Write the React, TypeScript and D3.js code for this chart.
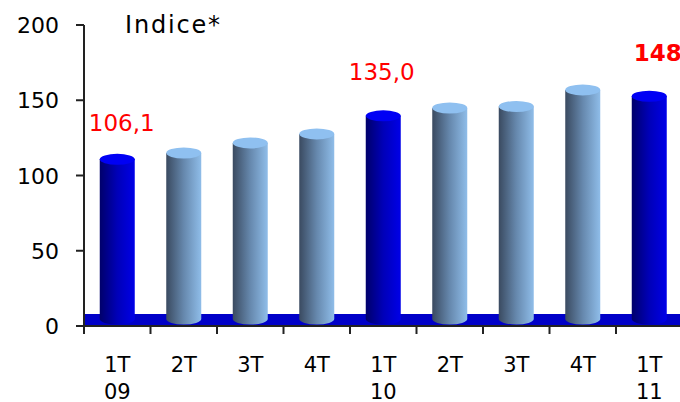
import React from "react";
import * as d3 from "d3";

const quarters = ["1T", "2T", "3T", "4T", "1T", "2T", "3T", "4T", "1T"];
const years = ["09", "", "", "", "10", "", "", "", "11"];
const values = [106.1, 110.3, 117.0, 123.0, 135.0, 140.2, 141.2, 152.2, 148.0];
const highlighted = [true, false, false, false, true, false, false, false, true];
const valueLabels = ["106,1", "", "", "", "135,0", "", "", "", "148,0"];
const labelBold = [false, false, false, false, false, false, false, false, true];
const yTicks = [0, 50, 100, 150, 200];
const title = "Indice*";

const W = 680;
const H = 402;
const left = 84;
const bandW = 66.5;
const x = d3
  .scaleBand<number>()
  .domain(d3.range(quarters.length))
  .range([left, left + bandW * quarters.length])
  .padding(0);
const y = d3.scaleLinear().domain([0, 200]).range([326, 25]);

const depth = 7; // 3D depth shift of bars
const barW = 35;
const ry = 5.5;
const FONT = "Verdana, 'DejaVu Sans', sans-serif";

// label offsets (dx relative to bar center, dy relative to bar top)
const labelDx = [4.5, 0, 0, 0, -1.5, 0, 0, 0, 21];
const labelDy = [-28, 0, 0, 0, -36, 0, 0, 0, -35];

export default function App() {
  const base = y(0) - depth;
  return (
    <svg
      width={W}
      height={H}
      style={{ position: "absolute", left: 0, top: 0, display: "block" }}
      fontFamily={FONT}
    >
      <defs>
        <linearGradient id="gBlue" x1="0" x2="1" y1="0" y2="0">
          <stop offset="0" stopColor="#00006a" />
          <stop offset="0.5" stopColor="#0000b8" />
          <stop offset="1" stopColor="#0000e8" />
        </linearGradient>
        <linearGradient id="gGray" x1="0" x2="1" y1="0" y2="0">
          <stop offset="0" stopColor="#3a4a60" />
          <stop offset="0.5" stopColor="#6688ad" />
          <stop offset="1" stopColor="#8fbde9" />
        </linearGradient>
      </defs>
      <rect width={W} height={H} fill="#fff" />

      {/* floor */}
      <rect
        x={left}
        y={y(0) - 12}
        width={W - left}
        height={11}
        fill="#0000c8"
      />

      {/* bars */}
      {values.map((v, i) => {
        const cx = (x(i) as number) + x.bandwidth() / 2;
        const top = y(v) - depth;
        const hi = highlighted[i];
        return (
          <g key={i}>
            <path
              d={`M${cx - barW / 2},${top} L${cx - barW / 2},${base} A${barW / 2},${ry} 0 0 0 ${cx + barW / 2},${base} L${cx + barW / 2},${top} Z`}
              fill={hi ? "url(#gBlue)" : "url(#gGray)"}
            />
            <ellipse
              cx={cx}
              cy={top}
              rx={barW / 2}
              ry={ry}
              fill={hi ? "#0000f4" : "#8fc0f0"}
            />
          </g>
        );
      })}

      {/* y axis */}
      <line x1={left} x2={left} y1={y(200)} y2={y(0)} stroke="#222" strokeWidth={2} />
      {yTicks.map((t) => (
        <g key={t}>
          <line x1={left - 8} x2={left} y1={y(t)} y2={y(t)} stroke="#222" strokeWidth={2} />
          <text x={59} y={y(t) + 8} textAnchor="end" fontSize={22} fill="#000">
            {t}
          </text>
        </g>
      ))}

      {/* x axis */}
      <line x1={left - 8} x2={W} y1={y(0)} y2={y(0)} stroke="#222" strokeWidth={2} />
      {d3.range(quarters.length + 1).map((i) => (
        <line
          key={i}
          x1={left + bandW * i}
          x2={left + bandW * i}
          y1={y(0)}
          y2={y(0) + 8}
          stroke="#222"
          strokeWidth={2}
        />
      ))}
      {quarters.map((q, i) => {
        const cx = (x(i) as number) + x.bandwidth() / 2;
        return (
          <g key={i}>
            <text x={cx} y={372} textAnchor="middle" fontSize={21} fill="#000">
              {q}
            </text>
            {years[i] && (
              <text x={cx} y={399} textAnchor="middle" fontSize={21} fill="#000">
                {years[i]}
              </text>
            )}
          </g>
        );
      })}

      {/* value labels */}
      {valueLabels.map((l, i) =>
        l ? (
          <text
            key={i}
            x={(x(i) as number) + x.bandwidth() / 2 + labelDx[i]}
            y={y(values[i]) - depth + labelDy[i]}
            textAnchor="middle"
            fontSize={23}
            fontWeight={labelBold[i] ? "bold" : "normal"}
            fill="#ff0000"
          >
            {l}
          </text>
        ) : null
      )}

      <text x={125} y={33} fontSize={24} letterSpacing={1.8} fill="#000">
        {title}
      </text>
    </svg>
  );
}
